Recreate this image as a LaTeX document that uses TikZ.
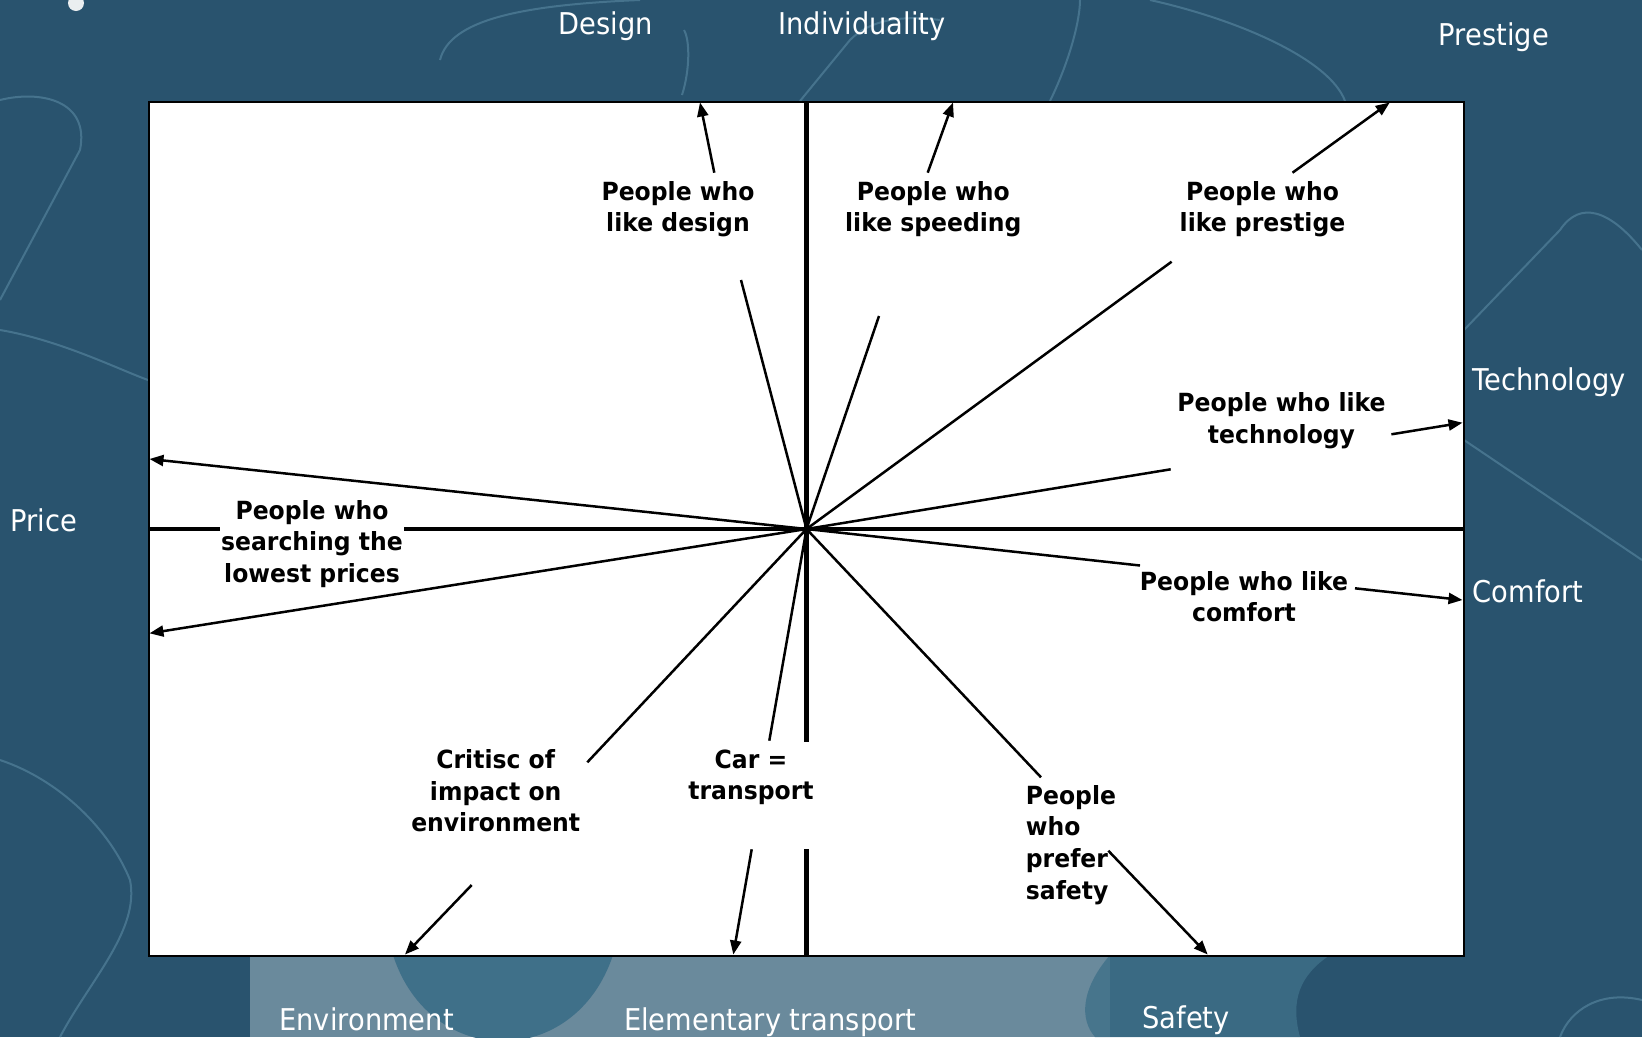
\documentclass[tikz,border=0pt]{standalone}
\usepackage{fontspec}
\usetikzlibrary{arrows.meta}
\newfontfamily\lblfont{DejaVu Sans}[FakeStretch=0.94]
\newfontfamily\axfont{DejaVu Sans}[FakeStretch=0.91]
\definecolor{bgblue}{HTML}{29536E}
\definecolor{bglight}{HTML}{6A8A9C}
\definecolor{bgmid}{HTML}{3F7089}
\definecolor{bgline}{HTML}{5E8FA8}
\begin{document}
\begin{tikzpicture}[x=1pt,y=-1pt,
  axislbl/.style={font=\axfont\fontsize{30}{36}\selectfont, text=white, inner sep=0pt, anchor=base},
  grp/.style={font=\lblfont\bfseries\fontsize{25}{31.7}\selectfont, align=center, inner sep=0pt, anchor=north},
  conn/.style={line width=2.5pt, black},
  arr/.style={conn, -{Triangle[length=14pt,width=11pt]}},
  axisline/.style={line width=4.5pt, black},
  deco/.style={draw=bgline, line width=2pt, opacity=0.55},
]
% ---------- background ----------
\fill[bgblue] (0,0) rectangle (1642,1037);
\useasboundingbox (0,0) rectangle (1642,1037);
\fill[bglight] (250,955) rectangle (1110,1037);
\fill[bgmid] (393,955) .. controls (430,1070) and (575,1070) .. (613,955) -- cycle;
\fill[bgmid, opacity=0.8] (1110,955) .. controls (1080,990) and (1080,1020) .. (1095,1037) -- (1300,1037) .. controls (1290,1000) and (1300,975) .. (1330,955) -- cycle;
\draw[deco] (440,60) .. controls (450,20) and (520,5) .. (640,0);
\draw[deco] (682,95) .. controls (690,70) and (690,40) .. (684,30);
\draw[deco] (800,101) -- (850,40) .. controls (870,20) and (900,15) .. (940,20);
\draw[deco] (1050,101) .. controls (1070,60) and (1080,20) .. (1080,0);
\draw[deco] (1150,0) .. controls (1240,20) and (1330,60) .. (1345,101);
\draw[deco] (1464,330) -- (1560,230) .. controls (1580,200) and (1610,210) .. (1642,250);
\draw[deco] (1464,440) -- (1642,560);
\draw[deco] (0,100) .. controls (40,90) and (90,100) .. (80,150) -- (0,300);
\draw[deco] (0,330) .. controls (60,340) and (120,370) .. (148,380);
\draw[deco] (0,760) .. controls (60,780) and (110,830) .. (130,880) .. controls (140,930) and (90,980) .. (60,1037);
\draw[deco] (1560,1037) .. controls (1570,1010) and (1600,990) .. (1642,1000);
\fill[white, opacity=0.9] (76,3) circle (8);
% ---------- chart frame ----------
\draw[line width=2pt, fill=white] (148.5,101.5) rectangle (1463.5,955.5);
% ---------- coordinates ----------
\coordinate (O) at (806.5,529);
\coordinate (vTop) at (806.5,101.5);
\coordinate (vGap1) at (806.5,741.7);
\coordinate (vGap2) at (806.5,849.3);
\coordinate (vBot) at (806.5,955.5);
\coordinate (hL) at (148.5,529);
\coordinate (hGap1) at (220,529);
\coordinate (hGap2) at (404,529);
\coordinate (hR) at (1463.5,529);
% axes
\draw[axisline] (vTop) -- (vGap1);
\draw[axisline] (vGap2) -- (vBot);
\draw[axisline] (hL) -- (hGap1);
\draw[axisline] (hGap2) -- (hR);
% connector points
\coordinate (dA) at (741,280);   \coordinate (dB) at (714.3,172.7); \coordinate (dT) at (700,102.5);
\coordinate (sA) at (879,316);   \coordinate (sB) at (927.7,172.7); \coordinate (sT) at (953,102.5);
\coordinate (pA) at (1171.6,261.7); \coordinate (pB) at (1292.5,172.7); \coordinate (pT) at (1389.7,102.5);
\coordinate (tA) at (1170.7,469.3); \coordinate (tB) at (1391.4,434.3); \coordinate (tT) at (1462.5,422.7);
\coordinate (cA) at (1140,565.5); \coordinate (cB) at (1355,588.3); \coordinate (cT) at (1462.5,600);
\coordinate (prU) at (149.5,459); \coordinate (prD) at (149.5,633.3);
\coordinate (eA) at (587.3,762.3); \coordinate (eB) at (471.7,885); \coordinate (eT) at (405,954.5);
\coordinate (kA) at (769.3,740.7); \coordinate (kB) at (751.7,849.3); \coordinate (kT) at (733.3,954.5);
\coordinate (fA) at (1041,777.3); \coordinate (fB) at (1108.3,850.7); \coordinate (fT) at (1207.7,954.5);
% connectors
\draw[conn] (O) -- (dA);  \draw[arr] (dB) -- (dT);
\draw[conn] (O) -- (sA);  \draw[arr] (sB) -- (sT);
\draw[conn] (O) -- (pA);  \draw[arr] (pB) -- (pT);
\draw[conn] (O) -- (tA);  \draw[arr] (tB) -- (tT);
\draw[conn] (O) -- (cA);  \draw[arr] (cB) -- (cT);
\draw[arr] (O) -- (prU);
\draw[arr] (O) -- (prD);
\draw[conn] (O) -- (eA);  \draw[arr] (eB) -- (eT);
\draw[conn] (O) -- (kA);  \draw[arr] (kB) -- (kT);
\draw[conn] (O) -- (fA);  \draw[arr] (fB) -- (fT);
% ---------- group labels ----------
\node[grp] (gDesign) at (678,180) {\rule{0pt}{20pt}People who\\like design};
\node[grp] (gSpeed) at (933.3,180) {\rule{0pt}{20pt}People who\\like speeding};
\node[grp] (gPrestige) at (1262.5,180) {\rule{0pt}{20pt}People who\\like prestige};
\node[grp] (gTech) at (1281.5,391.7) {\rule{0pt}{20pt}People who like\\technology};
\node[grp] (gPrice) at (312,499) {\rule{0pt}{20pt}People who\\searching the\\lowest prices};
\node[grp] (gComfort) at (1244,570) {\rule{0pt}{20pt}People who like\\comfort};
\node[grp] (gEnv) at (495.7,748.3) {\rule{0pt}{20pt}Critisc of\\impact on\\environment};
\node[grp] (gCar) at (751,748) {\rule{0pt}{20pt}Car =\\transport};
\node[grp, align=left, anchor=north west] (gSafety) at (1025.7,784) {\rule{0pt}{20pt}People\\who\\prefer\\safety};
% ---------- axis labels ----------
\node[axislbl] (aDesign) at (605.7,34.3) {Design};
\node[axislbl] (aIndiv) at (862,34.3) {Individuality};
\node[axislbl] (aPrestige) at (1494,45) {Prestige};
\node[axislbl] (aTech) at (1549,390) {Technology};
\node[axislbl] (aComfort) at (1528,602.7) {Comfort};
\node[axislbl] (aPrice) at (43.5,531.7) {Price};
\node[axislbl] (aEnv) at (366.5,1030) {Environment};
\node[axislbl] (aElem) at (770,1030) {Elementary transport};
\node[axislbl] (aSafety) at (1186,1028) {Safety};
\end{tikzpicture}
\end{document}
